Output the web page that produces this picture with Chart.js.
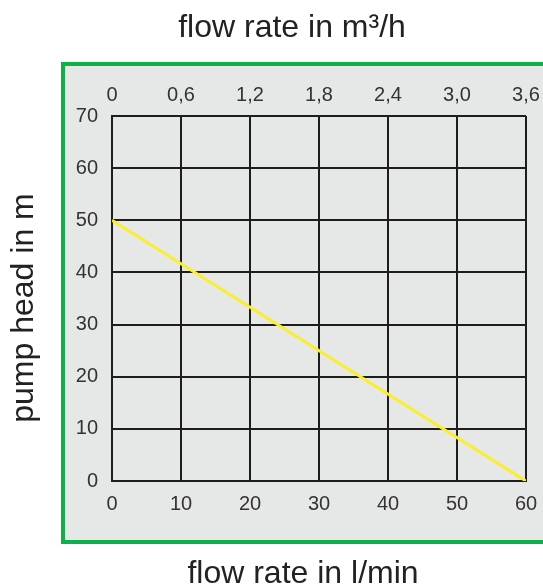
<!DOCTYPE html>
<html>
<head>
<meta charset="utf-8">
<script src="https://cdn.jsdelivr.net/npm/chart.js@4"></script>
<style>
  html, body { margin:0; padding:0; background:#fff; }
  canvas { display:block; }
</style>
</head>
<body>
<canvas id="pumpChart" width="543" height="587"></canvas>
<script>
// pump curve
const flowLpm = [0, 60];
const headM = [50, 0];

// secondary (top) axis in m3/h
const topTickValues = [0, 0.6, 1.2, 1.8, 2.4, 3.0, 3.6];
const topTickLabels = ['0', '0,6', '1,2', '1,8', '2,4', '3,0', '3,6'];

const tickFont = { family: 'Liberation Sans', size: 20 };
const gridColor = '#1d1d1b';

// grey panel with green frame behind the plot
const framePlugin = {
  id: 'frame',
  beforeDraw(chart) {
    const ctx = chart.ctx;
    ctx.save();
    ctx.fillStyle = '#e6e7e7';
    ctx.fillRect(63, 64, 500, 478);
    ctx.strokeStyle = '#0db14b';
    ctx.lineWidth = 4;
    ctx.strokeRect(63, 64, 520, 478);
    ctx.restore();
  }
};

// axis titles sit off-centre in the original, so place them by hand
const axisTitles = {
  id: 'axisTitles',
  afterDraw(chart) {
    const ctx = chart.ctx;
    ctx.save();
    ctx.fillStyle = '#222';
    ctx.font = '32px "Liberation Sans"';
    ctx.textAlign = 'center';
    ctx.textBaseline = 'alphabetic';
    ctx.fillText('flow rate in m³/h', 292, 37);
    ctx.fillText('flow rate in l/min', 303, 583);
    ctx.translate(33, 308);
    ctx.rotate(-Math.PI / 2);
    ctx.fillText('pump head in m', 0, 0);
    ctx.restore();
  }
};

const noSidePadding = (s) => { s.paddingLeft = 0; s.paddingRight = 0; };

new Chart(document.getElementById('pumpChart'), {
  type: 'scatter',
  data: {
    datasets: [{
      data: flowLpm.map((x, i) => ({ x: x, y: headM[i] })),
      showLine: true,
      borderColor: '#fbee2a',
      borderWidth: 3,
      pointRadius: 0,
      xAxisID: 'x',
      yAxisID: 'y'
    }]
  },
  options: {
    responsive: false,
    animation: false,
    devicePixelRatio: 1,
    layout: { padding: { right: 17 } },
    plugins: { legend: { display: false }, tooltip: { enabled: false } },
    scales: {
      x: {
        type: 'linear',
        position: 'bottom',
        min: 0, max: 60,
        ticks: { stepSize: 10, color: '#333', font: tickFont, padding: 11, maxRotation: 0 },
        grid: { color: gridColor, lineWidth: 2, drawTicks: false },
        border: { color: gridColor, width: 2 },
        afterFit: (s) => { s.height = 106; noSidePadding(s); }
      },
      x2: {
        type: 'linear',
        position: 'top',
        min: 0, max: 3.6,
        afterBuildTicks: (s) => { s.ticks = topTickValues.map(v => ({ value: v })); },
        ticks: { color: '#333', font: tickFont, padding: 9, maxRotation: 0, callback: (v, i) => topTickLabels[i] },
        grid: { display: false, drawTicks: false },
        border: { display: false },
        afterFit: (s) => { s.height = 116; noSidePadding(s); }
      },
      y: {
        type: 'linear',
        position: 'left',
        min: 0, max: 70,
        ticks: { stepSize: 10, color: '#333', font: tickFont, padding: 14 },
        grid: { color: gridColor, lineWidth: 2, drawTicks: false },
        border: { color: gridColor, width: 2 },
        afterFit: (s) => { s.width = 112; }
      }
    }
  },
  plugins: [framePlugin, axisTitles]
});
</script>
</body>
</html>
